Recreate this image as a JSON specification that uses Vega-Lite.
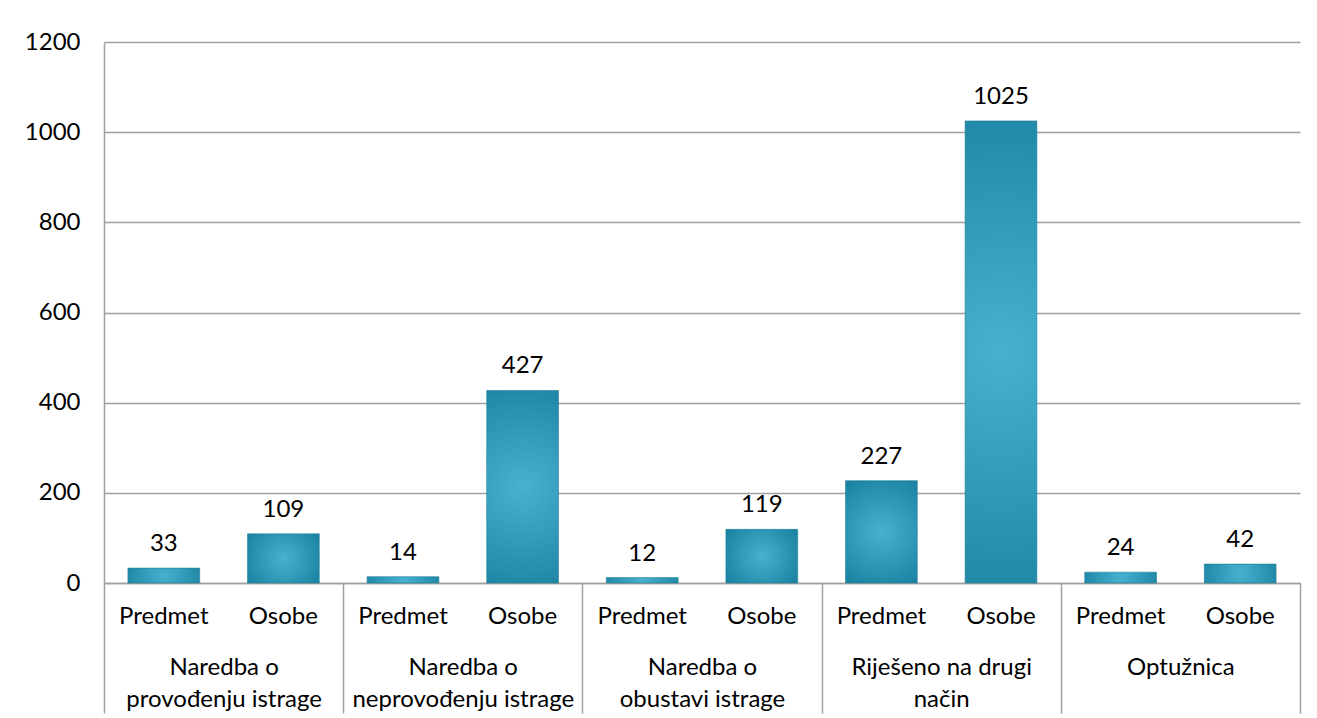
{
  "$schema": "https://vega.github.io/schema/vega-lite/v6.json",
  "autosize": {"type": "none"},
  "width": 1196,
  "height": 541,
  "padding": {"left": 104, "top": 42, "right": 17, "bottom": 135},
  "background": "white",
  "config": {"view": {"stroke": null}, "font": "Lato"},
  "data": {
    "values": [
      {"group": "Naredba o|provođenju istrage", "type": "Predmet", "value": 33},
      {"group": "Naredba o|provođenju istrage", "type": "Osobe", "value": 109},
      {"group": "Naredba o|neprovođenju istrage", "type": "Predmet", "value": 14},
      {"group": "Naredba o|neprovođenju istrage", "type": "Osobe", "value": 427},
      {"group": "Naredba o|obustavi istrage", "type": "Predmet", "value": 12},
      {"group": "Naredba o|obustavi istrage", "type": "Osobe", "value": 119},
      {"group": "Riješeno na drugi|način", "type": "Predmet", "value": 227},
      {"group": "Riješeno na drugi|način", "type": "Osobe", "value": 1025},
      {"group": "Optužnica", "type": "Predmet", "value": 24},
      {"group": "Optužnica", "type": "Osobe", "value": 42}
    ]
  },
  "encoding": {
    "x": {
      "field": "group",
      "type": "nominal",
      "sort": null,
      "scale": {"paddingInner": 0, "paddingOuter": 0},
      "axis": {
        "title": null,
        "labelAngle": 0,
        "labelExpr": "split(datum.label, '|')",
        "labelLineHeight": 32,
        "labelBaseline": "alphabetic",
        "labelFont": "Lato",
        "labelFontSize": 24,
        "labelColor": "#000000",
        "labelPadding": -39,
        "labelLimit": 400,
        "tickBand": "extent",
        "tickSize": 130,
        "tickColor": "#a0a0a0",
        "tickWidth": 1.5,
        "domainColor": "#a0a0a0",
        "domainWidth": 1.5
      }
    },
    "xOffset": {
      "field": "type",
      "type": "nominal",
      "sort": ["Predmet", "Osobe"],
      "scale": {"paddingInner": 0.4, "paddingOuter": 0.2}
    }
  },
  "layer": [
    {
      "mark": {
        "type": "bar",
        "fill": {
          "gradient": "radial",
          "x1": 0.5, "y1": 0.5, "r1": 0,
          "x2": 0.5, "y2": 0.5, "r2": 0.6,
          "stops": [
            {"offset": 0, "color": "#48b1cf"},
            {"offset": 1, "color": "#1a82a0"}
          ]
        },
        "stroke": "#1f7f99",
        "strokeWidth": 0.6
      },
      "encoding": {
        "y": {
          "field": "value",
          "type": "quantitative",
          "scale": {"domain": [0, 1200], "nice": false},
          "axis": {
            "title": null,
            "values": [0, 200, 400, 600, 800, 1000, 1200],
            "format": "d",
            "ticks": false,
            "labelPadding": 24,
            "labelFont": "Lato",
            "labelFontSize": 24,
            "labelColor": "#000000",
            "grid": true,
            "gridColor": "#a0a0a0",
            "gridWidth": 1.5,
            "domainColor": "#a0a0a0",
            "domainWidth": 1.5
          }
        }
      }
    },
    {
      "mark": {"type": "text", "dy": -17, "baseline": "alphabetic", "fontSize": 24, "font": "Lato", "color": "#000000"},
      "encoding": {
        "y": {"field": "value", "type": "quantitative"},
        "text": {"field": "value", "type": "quantitative"}
      }
    },
    {
      "mark": {"type": "text", "dy": 41, "baseline": "alphabetic", "fontSize": 24, "font": "Lato", "color": "#000000"},
      "encoding": {
        "y": {"datum": 0, "type": "quantitative"},
        "text": {"field": "type", "type": "nominal"}
      }
    }
  ]
}
